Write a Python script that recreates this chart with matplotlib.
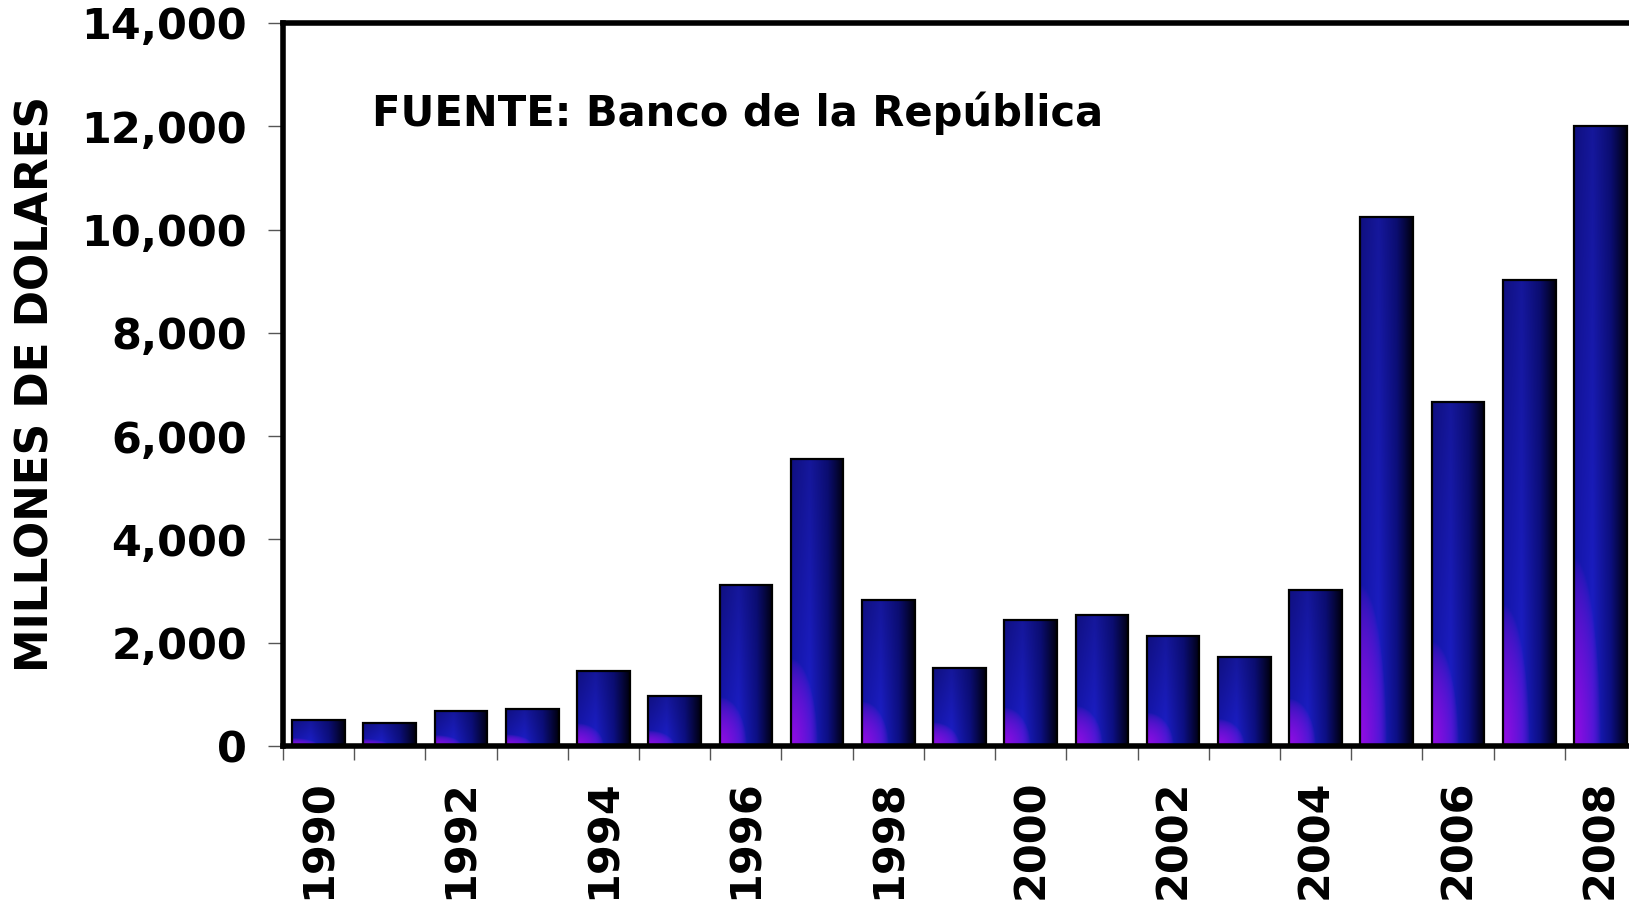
import numpy as np
import matplotlib
matplotlib.use("Agg")
import matplotlib.pyplot as plt

years = list(range(1990, 2009))
valores = [500, 440, 680, 720, 1450, 970, 3110, 5560, 2830, 1510,
           2440, 2540, 2130, 1720, 3020, 10250, 6660, 9030, 12000]
yticks = [0, 2000, 4000, 6000, 8000, 10000, 12000, 14000]
ylabel = "MILLONES DE DOLARES"
fuente = "FUENTE: Banco de la República"

plt.rcParams["font.family"] = ["DejaVu Sans"]
plt.rcParams["font.weight"] = "bold"

W, H = 1629, 906
fig = plt.figure(figsize=(W / 100, H / 100), dpi=100)
ax = fig.add_axes([283 / W, 160 / H, 1353 / W, 723 / H])

x = np.arange(len(years))
bw = 0.74


def bar_gradient(nx=60, ny=150):
    # horizontal blue -> black, purple in lower left corner
    u = np.linspace(0, 1, nx)[None, :]
    v = np.linspace(0, 1, ny)[:, None]
    stops_u = [0.0, 0.35, 0.7, 1.0]
    cols = np.array([[0.09, 0.09, 0.72],
                     [0.11, 0.12, 0.80],
                     [0.05, 0.06, 0.52],
                     [0.00, 0.00, 0.06]])
    img = np.zeros((ny, nx, 3))
    for c in range(3):
        img[:, :, c] = np.interp(u[0], stops_u, cols[:, c])[None, :]
    # darker toward the top
    img = img * (1 - 0.3 * v * (1 - u) ** 0.5)[..., None]
    # purple corner
    w = np.clip(1 - np.sqrt((u / 0.5) ** 2 + (v / 0.3) ** 2), 0, 1) ** 0.6
    purple = np.array([0.58, 0.05, 0.90])
    img = img * (1 - w[..., None]) + purple * w[..., None]
    return np.clip(img, 0, 1)


grad = bar_gradient()
for xi, val in zip(x, valores):
    ax.imshow(grad, extent=[xi - bw / 2, xi + bw / 2, 0, val], origin="lower",
              aspect="auto", interpolation="bilinear", zorder=2)
ax.bar(x, valores, width=bw, facecolor="none", edgecolor="black",
       linewidth=1.6, zorder=3)

ax.set_xlim(-0.5, len(years) - 0.5)
ax.set_ylim(0, 14000)

ax.set_yticks(yticks)
ax.set_yticklabels([f"{t:,}" for t in yticks], fontsize=31, fontweight="bold")
ax.tick_params(axis="y", direction="out", length=11, width=1, color="#555555",
               pad=15)

ax.set_xticks(x[::2])
ax.set_xticklabels([str(y) for y in years[::2]], rotation=90, fontsize=31,
                   fontweight="bold")
ax.set_xticks(np.arange(-0.5, len(years), 1), minor=True)
ax.tick_params(axis="x", which="major", length=0, pad=24)
ax.tick_params(axis="x", which="minor", direction="out", length=10, width=1,
               color="#555555")

for s in ["left", "bottom", "top"]:
    ax.spines[s].set_linewidth(4)
    ax.spines[s].set_color("black")
    ax.spines[s].set_zorder(4)
ax.spines["right"].set_visible(False)

fig.text(36 / W, 1 - 384 / H, ylabel, rotation=90, ha="center", va="center",
         fontsize=31.5, fontweight="bold")
fig.text(372 / W, 1 - 113 / H, fuente, ha="left", va="center", fontsize=30,
         fontweight="bold")

fig.savefig("out.png", dpi=100)
